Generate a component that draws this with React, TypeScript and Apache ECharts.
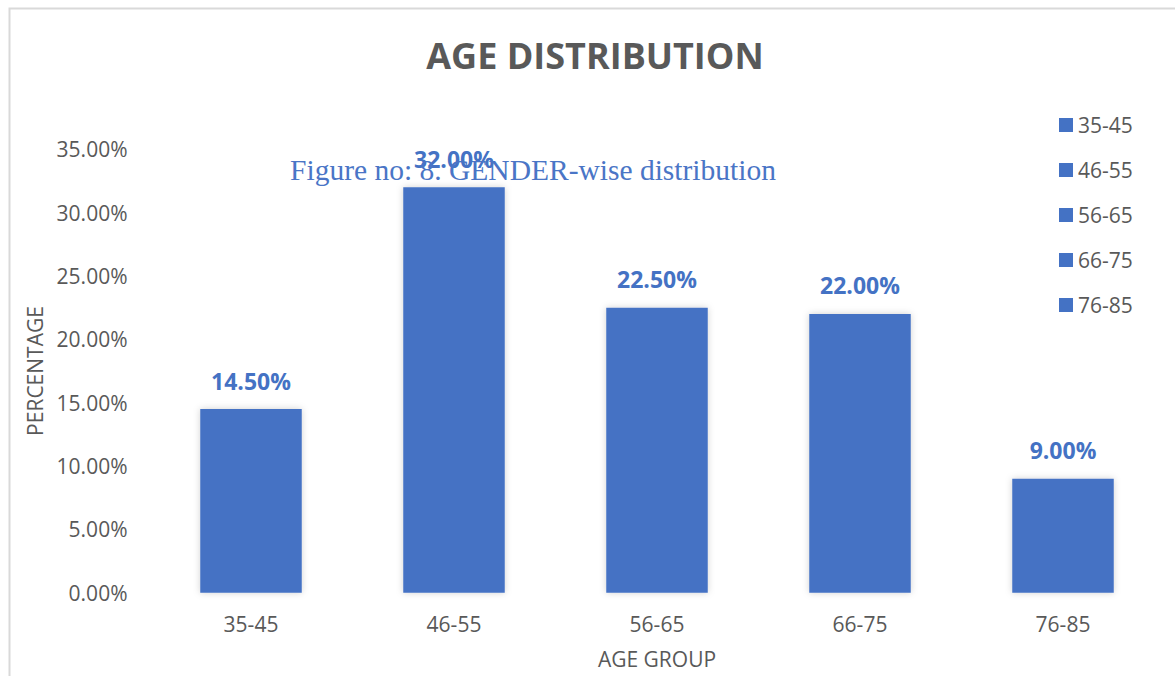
import React, { useEffect, useRef } from "react";
import * as echarts from "echarts";

const categories = ["35-45", "46-55", "56-65", "66-75", "76-85"];
const values = [14.5, 32.0, 22.5, 22.0, 9.0];
const yTicks = [0, 5, 10, 15, 20, 25, 30, 35];

const BLUE = "#4472C4";
const GREY = "#595959";
const FONT = "'Open Sans', 'Noto Sans', sans-serif";

export default function App() {
  const ref = useRef<HTMLDivElement>(null);
  useEffect(() => {
    if (!ref.current) return;
    const chart = echarts.init(ref.current, null, { renderer: "svg" });
    const series = categories.map((name, i) => ({
      name,
      type: "bar",
      stack: "all",
      barWidth: "50%",
      data: categories.map((_, j) => (j === i ? values[i] : "-")),
      itemStyle: {
        color: BLUE,
        shadowBlur: 7,
        shadowColor: "rgba(0,0,0,0.18)",
      },
      label: {
        show: true,
        position: "top",
        distance: 17,
        color: BLUE,
        fontFamily: FONT,
        fontWeight: "bold",
        fontSize: 23,
        formatter: (p: any) => p.value.toFixed(2) + "%",
      },
    }));
    chart.setOption({
      animation: false,
      backgroundColor: "#fff",
      title: {
        text: "AGE DISTRIBUTION",
        left: 590,
        top: 32,
        textAlign: "center",
        textStyle: { color: GREY, fontFamily: FONT, fontWeight: "bold", fontSize: 36 },
      },
      legend: {
        orient: "vertical",
        left: 1059,
        top: 114.5,
        padding: 0,
        itemWidth: 14,
        itemHeight: 14,
        itemGap: 24,
        icon: "rect",
        data: categories,
        textStyle: { color: GREY, fontFamily: FONT, fontSize: 21 },
      },
      grid: { left: 149.5, right: 10.5, top: 149.3, bottom: 83.3, containLabel: false },
      xAxis: {
        type: "category",
        data: categories,
        name: "AGE GROUP",
        nameLocation: "middle",
        nameGap: 56,
        nameTextStyle: { color: GREY, fontFamily: FONT, fontSize: 21 },
        axisLine: { show: false },
        axisTick: { show: false },
        axisLabel: { color: GREY, fontFamily: FONT, fontSize: 21, margin: 21 },
      },
      yAxis: {
        type: "value",
        min: 0,
        max: 35,
        interval: 5,
        name: "PERCENTAGE",
        nameLocation: "middle",
        nameGap: 104,
        nameTextStyle: { color: GREY, fontFamily: FONT, fontSize: 21 },
        axisLine: { show: false },
        axisTick: { show: false },
        splitLine: { show: false },
        axisLabel: {
          color: GREY,
          fontFamily: FONT,
          fontSize: 21,
          margin: 22,
          formatter: (v: number) => (yTicks.includes(v) ? v.toFixed(2) + "%" : ""),
        },
      },
      graphic: [
        {
          type: "rect",
          shape: { x: 9.5, y: 8.5, width: 1200, height: 720 },
          style: { fill: "none", stroke: "#d9d9d9", lineWidth: 2 },
          silent: true,
        },
        {
          type: "text",
          x: 533,
          y: 170,
          z: 100,
          style: {
            text: "Figure no: 8. GENDER-wise distribution",
            fill: "#4a75c6",
            font: "29.5px 'Liberation Serif', 'Times New Roman', serif",
            textAlign: "center",
            textVerticalAlign: "middle",
          },
        },
      ],
      series,
    });
    return () => chart.dispose();
  }, []);
  return (
    <div
      ref={ref}
      style={{ position: "absolute", left: 0, top: 0, width: 1175, height: 676 }}
    />
  );
}
